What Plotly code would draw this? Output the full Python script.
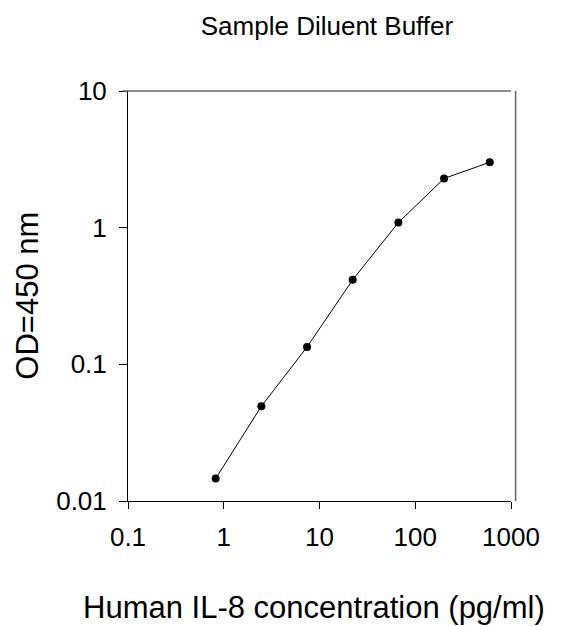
import plotly.graph_objects as go

concentration = [0.823, 2.47, 7.41, 22.2, 66.7, 200, 600]
od450 = [0.0146, 0.0493, 0.134, 0.415, 1.09, 2.29, 3.01]

x_ticks = [0.1, 1, 10, 100, 1000]
x_ticktext = ["0.1", "1", "10", "100", "1000"]
y_ticks = [0.01, 0.1, 1, 10]
y_ticktext = ["0.01", "0.1", "1", "10"]

W, H = 567, 626
ml, mr, mt, mb = 127.5, 56, 91, 125
pw = W - ml - mr
ph = H - mt - mb

fig = go.Figure()
fig.add_trace(go.Scatter(
    x=concentration, y=od450, mode="lines+markers",
    line=dict(color="black", width=1),
    marker=dict(color="black", size=8),
    showlegend=False,
))

font = "Liberation Sans, Arial, sans-serif"
fig.update_layout(
    width=W, height=H,
    margin=dict(l=ml, r=mr, t=mt, b=mb),
    paper_bgcolor="white", plot_bgcolor="white",
    font=dict(family=font, color="black"),
    title=dict(text="Sample Diluent Buffer", x=327 / W, xanchor="center",
               y=1 - 26 / H, yanchor="middle", font=dict(size=26, family=font, color="black")),
    xaxis=dict(type="log", range=[-1, 3], tickvals=x_ticks, ticktext=x_ticktext,
               showgrid=False, zeroline=False, showline=True, linecolor="black", linewidth=1,
               ticks="outside", ticklen=7, tickcolor="black", tickwidth=1,
               ticklabelstandoff=6,
               tickfont=dict(size=26, family=font, color="black")),
    yaxis=dict(type="log", range=[-2, 1], tickvals=y_ticks, ticktext=y_ticktext,
               showgrid=False, zeroline=False, showline=True, linecolor="black", linewidth=1,
               ticks="outside", ticklen=8, tickcolor="black", tickwidth=1,
               ticklabelstandoff=7,
               tickfont=dict(size=26, family=font, color="black")),
)

# gray frame on top and right
fig.add_shape(type="line", xref="x domain", yref="y domain", x0=-0.014, x1=1.0, y0=1, y1=1,
              line=dict(color="#666666", width=1.5))
fig.add_shape(type="line", xref="x domain", yref="y domain", x0=1.012, x1=1.012, y0=0, y1=1,
              line=dict(color="#666666", width=1.5))

fig.add_annotation(text="OD=450 nm", xref="paper", yref="paper",
                   x=(26 - ml) / pw, y=(H - mb - 296) / ph, textangle=-90,
                   showarrow=False, xanchor="center", yanchor="middle",
                   font=dict(size=31, family=font, color="black"))
fig.add_annotation(text="Human IL-8 concentration (pg/ml)", xref="paper", yref="paper",
                   x=(314 - ml) / pw, y=(H - mb - 607) / ph,
                   showarrow=False, xanchor="center", yanchor="middle",
                   font=dict(size=31, family=font, color="black"))

fig.write_html("out.html", config={"displayModeBar": False},
               post_script="document.body.style.margin='0';document.body.style.overflow='hidden';")
